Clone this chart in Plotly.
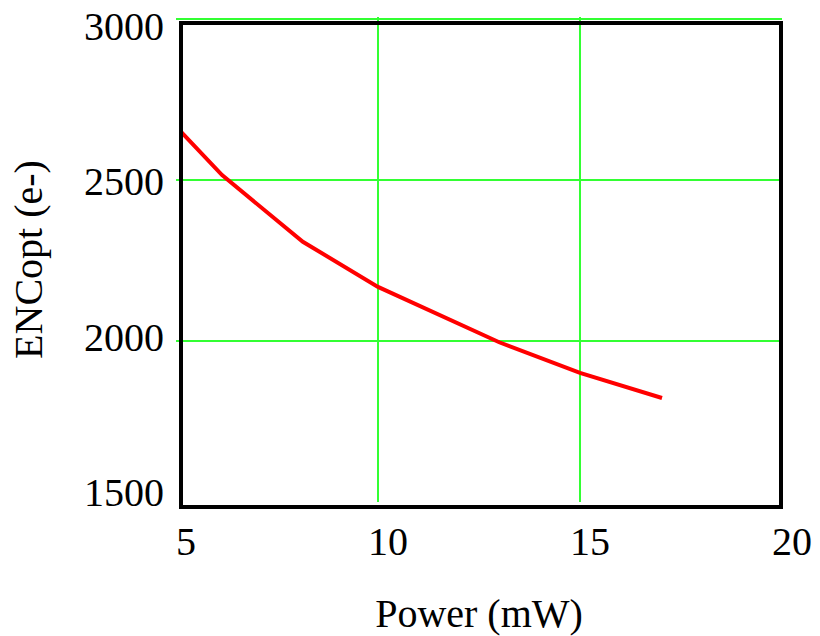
import plotly.graph_objects as go

power_mw = [5.12, 6.14, 8.14, 10.0, 13.0, 15.0, 17.03]
enc_opt = [2650, 2515, 2308, 2168, 1996, 1901, 1823]

x_ticks = [5, 10, 15, 20]
y_ticks = [1500, 2000, 2500, 3000]

W, H = 820, 636
L, R, T, B = 176, 38, 17, 134
pw, ph = W - L - R, H - T - B

grid_color = "#33ff33"
font_family = "Liberation Serif, Times New Roman, serif"

fig = go.Figure()
fig.add_trace(go.Scatter(
    x=power_mw, y=enc_opt, mode="lines",
    line=dict(color="#ff0000", width=4),
    showlegend=False,
))
# invisible companion trace so the label axis is drawn
fig.add_trace(go.Scatter(
    x=power_mw, y=enc_opt, mode="lines", yaxis="y2",
    line=dict(color="rgba(0,0,0,0)", width=0),
    showlegend=False, hoverinfo="skip",
))

# frame (offset slightly from the data area as in the reference)
fig.add_shape(type="rect", xref="paper", yref="paper",
              x0=(181 - L) / pw, x1=(781 - L) / pw,
              y0=-(507 - (T + ph)) / ph, y1=1 - (23 - T) / ph,
              line=dict(color="black", width=4), layer="above")

fig.update_layout(
    width=W, height=H,
    margin=dict(l=L, r=R, t=T, b=B),
    paper_bgcolor="white", plot_bgcolor="white",
    font=dict(family=font_family, size=40, color="black"),
    xaxis=dict(
        range=[5, 20], tickmode="array", tickvals=x_ticks,
        ticktext=[str(v) for v in x_ticks],
        showgrid=True, gridcolor=grid_color, gridwidth=2,
        zeroline=False, showline=False, ticks="", automargin=False,
        ticklabelshift=10, ticklabelstandoff=12,
        tickfont=dict(size=40),
        title=dict(text="Power (mW)", standoff=38, font=dict(size=40)),
    ),
    yaxis=dict(
        range=[1500, 3006], tickmode="array", tickvals=y_ticks,
        showgrid=True, gridcolor=grid_color, gridwidth=2,
        zeroline=False, showline=False, ticks="", automargin=False,
        showticklabels=False,
        title=dict(text="ENCopt (e-)", standoff=120, font=dict(size=40)),
    ),
    # label axis: tick labels sit slightly compressed toward the middle, as in the reference
    yaxis2=dict(
        overlaying="y", side="left", anchor="x",
        range=[1468, 3029], tickmode="array", tickvals=y_ticks,
        ticktext=[str(v) for v in y_ticks],
        showgrid=False, zeroline=False, showline=False, ticks="",
        automargin=False, ticklabelstandoff=11, ticklabeloverflow="allow",
        tickfont=dict(size=40),
    ),
)

fig.write_html("out.html")
